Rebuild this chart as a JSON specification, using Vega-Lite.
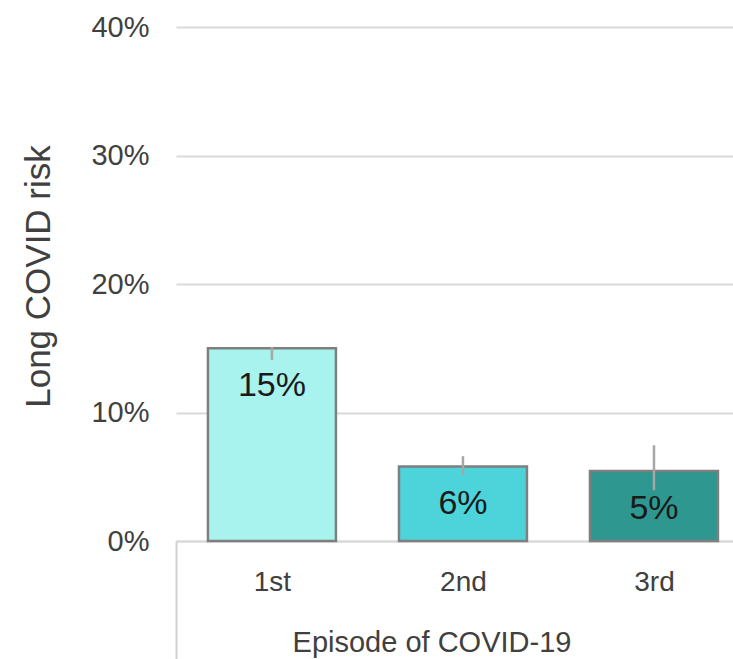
{
  "$schema": "https://vega.github.io/schema/vega-lite/v6.json",
  "width": 557,
  "height": 514,
  "autosize": {"type": "none"},
  "padding": {"left": 176, "top": 27, "right": 0, "bottom": 118},
  "background": "white",
  "config": {"view": {"stroke": null}, "font": "Liberation Sans"},
  "data": {"values": [
    {"episode": "1st", "risk": 0.150, "lower": 0.141, "upper": 0.151, "label": "15%"},
    {"episode": "2nd", "risk": 0.058, "lower": 0.0515, "upper": 0.066, "label": "6%"},
    {"episode": "3rd", "risk": 0.0545, "lower": 0.0395, "upper": 0.0745, "label": "5%"}
  ]},
  "encoding": {
    "x": {
      "field": "episode", "type": "nominal", "sort": null,
      "scale": {"paddingInner": 0.33, "paddingOuter": 0.123, "align": 0.68},
      "axis": {
        "title": "Episode of COVID-19",
        "labelAngle": 0,
        "labelFont": "Liberation Sans",
        "labelFontSize": 28,
        "labelColor": "#404040",
        "labelBaseline": "middle",
        "labelPadding": -76.5,
        "labelOffset": 32,
        "domainColor": "#d9d9d9",
        "domainWidth": 2,
        "bandPosition": 0,
        "tickExtra": false,
        "tickOffset": -32,
        "tickSize": 118,
        "tickWidth": 2,
        "tickColor": {"condition": {"test": "datum.value === '1st'", "value": "#d0d0d0"}, "value": "transparent"},
        "titleFont": "Liberation Sans",
        "titleFontSize": 29,
        "titleFontWeight": "normal",
        "titleColor": "#404040",
        "titleX": 255.5,
        "titleY": 101,
        "titleAlign": "center",
        "titleBaseline": "middle"
      }
    }
  },
  "layer": [
    {
      "mark": {"type": "bar", "stroke": "#7f7f7f", "strokeWidth": 2.5},
      "encoding": {
        "y": {
          "field": "risk", "type": "quantitative",
          "scale": {"domain": [0, 0.4], "nice": false},
          "axis": {
            "values": [0, 0.1, 0.2, 0.3, 0.4],
            "format": ".0%",
            "title": "Long COVID risk",
            "domain": false,
            "ticks": false,
            "tickSize": 0,
            "labelPadding": 27,
            "labelFont": "Liberation Sans",
            "labelFontSize": 29,
            "labelColor": "#404040",
            "gridColor": "#d9d9d9",
            "gridWidth": 2,
            "titleFont": "Liberation Sans",
            "titleFontSize": 35,
            "titleFontWeight": "normal",
            "titleColor": "#404040",
            "titleX": -138,
            "titleY": 249,
            "titleAngle": -90,
            "titleAlign": "center",
            "titleBaseline": "middle"
          }
        },
        "color": {
          "field": "episode", "type": "nominal", "legend": null,
          "scale": {"domain": ["1st", "2nd", "3rd"], "range": ["#a8f3ee", "#4dd3da", "#2e978f"]}
        }
      }
    },
    {
      "mark": {"type": "rule", "color": "#a6a6a6", "strokeWidth": 2.5},
      "encoding": {
        "y": {"field": "lower", "type": "quantitative"},
        "y2": {"field": "upper"}
      }
    },
    {
      "mark": {"type": "text", "baseline": "middle", "dy": 38, "fontSize": 34, "color": "#1a1a1a", "font": "Liberation Sans"},
      "encoding": {
        "y": {"field": "risk", "type": "quantitative"},
        "text": {"field": "label"}
      }
    }
  ]
}
